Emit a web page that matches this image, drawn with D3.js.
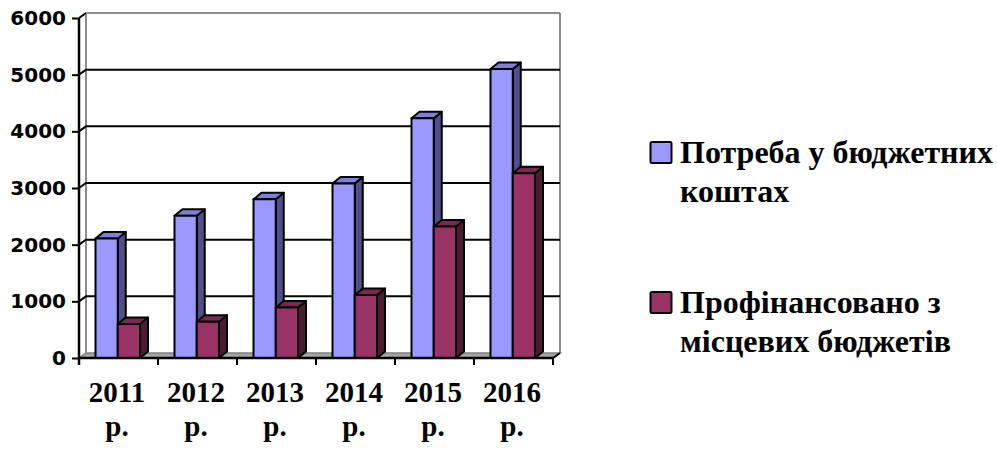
<!DOCTYPE html>
<html>
<head>
<meta charset="utf-8">
<script src="https://cdn.jsdelivr.net/npm/d3@7"></script>
<style>
  html, body { margin: 0; padding: 0; background: #fff; }
  svg { display: block; }
</style>
</head>
<body>
<svg id="chart" width="997" height="450"></svg>
<script>
// Categories (years) and the two series, in UAH thousands
const years = ["2011", "2012", "2013", "2014", "2015", "2016"];
const yearSuffix = "р.";
const seriesNames = ["Потреба у бюджетних коштах", "Профінансовано з місцевих бюджетів"];
const need = [2110, 2510, 2800, 3080, 4230, 5100];
const funded = [600, 640, 890, 1110, 2320, 3260];
const yTicks = [0, 1000, 2000, 3000, 4000, 5000, 6000];
const legendLines = [["Потреба у бюджетних", "коштах"], ["Профінансовано з", "місцевих бюджетів"]];

const svg = d3.select("#chart");

// Plot geometry: front plane and the depth offset of the back wall
const x0 = d3.scaleBand().domain(years).range([79, 553]).padding(0);
const x1 = d3.scaleBand().domain([0, 1]).range([16.5, 61]).padding(0);
const y = d3.scaleLinear().domain([0, 6000]).range([358, 18]);
const wallDx = 7, wallDy = -5;   // back wall offset
const barDx = 8, barDy = -6.5;   // bar depth offset

const fills = [
  { front: "#9999ff", side: "#4f4f8c", top: "#7f7fd9" },
  { front: "#993366", side: "#4c1a33", top: "#7a2952" }
];

const x0min = 79, x0max = 553;

// Floor
const floor = svg.append("g");
floor.append("path")
  .attr("d", `M${x0min},${y(0)} L${x0max},${y(0)} L${x0max + wallDx},${y(0) + wallDy} L${x0min + wallDx},${y(0) + wallDy} Z`)
  .attr("fill", "#a6a6a6").attr("stroke", "#7f7f7f").attr("stroke-width", 1.5);

// Walls (edges in grey)
const walls = svg.append("g").attr("fill", "none").attr("stroke", "#8c8c8c").attr("stroke-width", 2);
walls.append("line")
  .attr("x1", x0min + wallDx).attr("x2", x0min + wallDx)
  .attr("y1", y(6000) + wallDy).attr("y2", y(0) + wallDy);
walls.append("line")
  .attr("x1", x0max + wallDx).attr("x2", x0max + wallDx)
  .attr("y1", y(6000) + wallDy).attr("y2", y(0) + wallDy);

// Gridlines: diagonal across the side wall, then along the back wall
const grid = svg.append("g").attr("fill", "none").attr("stroke", "#000").attr("stroke-width", 2);
yTicks.filter(v => v > 0 && v < 6000).forEach(v => {
  grid.append("path")
    .attr("d", `M${x0min},${y(v)} L${x0min + wallDx},${y(v) + wallDy} L${x0max + wallDx},${y(v) + wallDy}`);
});
grid.append("line")
  .attr("x1", x0min).attr("y1", y(6000))
  .attr("x2", x0min + wallDx).attr("y2", y(6000) + wallDy);
svg.append("line")
  .attr("x1", x0min + wallDx).attr("x2", x0max + wallDx)
  .attr("y1", y(6000) + wallDy).attr("y2", y(6000) + wallDy)
  .attr("stroke", "#8c8c8c").attr("stroke-width", 2);

// Bars with front, side and top faces
const bars = svg.append("g").attr("stroke", "#000").attr("stroke-width", 2).attr("stroke-linejoin", "round");
years.forEach((yr, i) => {
  [need[i], funded[i]].forEach((v, s) => {
    const xl = x0(yr) + x1(s);
    const xr = xl + x1.bandwidth();
    const yt = y(v), yb = y(0);
    const g = bars.append("g");
    g.append("path")
      .attr("d", `M${xr},${yb} L${xr + barDx},${yb + barDy} L${xr + barDx},${yt + barDy} L${xr},${yt} Z`)
      .attr("fill", fills[s].side);
    g.append("path")
      .attr("d", `M${xl},${yt} L${xl + barDx},${yt + barDy} L${xr + barDx},${yt + barDy} L${xr},${yt} Z`)
      .attr("fill", fills[s].top);
    g.append("rect")
      .attr("x", xl).attr("y", yt)
      .attr("width", xr - xl).attr("height", yb - yt)
      .attr("fill", fills[s].front);
  });
});

// Value axis
const yAxis = d3.axisLeft(y).tickValues(yTicks).tickSize(7).tickPadding(6).tickFormat(d3.format("d"));
const yG = svg.append("g").attr("transform", `translate(${x0min},0)`).call(yAxis);
yG.select(".domain").attr("stroke", "#000").attr("stroke-width", 2.5).attr("d", `M0,${y(6000)}V${y(0) + 7}`);
yG.selectAll(".tick line").attr("stroke", "#000").attr("stroke-width", 2);
yG.selectAll(".tick text")
  .attr("font-family", "'DejaVu Sans', sans-serif").attr("font-weight", "bold")
  .attr("font-size", 20).attr("fill", "#000").attr("x", -13);

// Category axis
const xAxis = d3.axisBottom(x0).tickSize(0).tickFormat("");
const xG = svg.append("g").attr("transform", `translate(0,${y(0)})`).call(xAxis);
xG.select(".domain").attr("stroke", "#000").attr("stroke-width", 2.5).attr("d", `M${x0min},0H${x0max}`);
xG.selectAll(".tick").remove();
const boundaries = years.map(yr => x0(yr)).concat([x0max]);
xG.selectAll("line.cat").data(boundaries).join("line").attr("class", "cat")
  .attr("x1", d => d).attr("x2", d => d).attr("y1", 0).attr("y2", 7)
  .attr("stroke", "#000").attr("stroke-width", 2);
xG.append("line")
  .attr("x1", x0max).attr("y1", 0).attr("x2", x0max + wallDx).attr("y2", wallDy)
  .attr("stroke", "#000").attr("stroke-width", 2);

const labels = svg.append("g")
  .attr("font-family", "'Liberation Serif', 'Times New Roman', serif")
  .attr("font-weight", "bold").attr("font-size", 29).attr("fill", "#000")
  .attr("text-anchor", "middle");
years.forEach(yr => {
  const cx = x0(yr) + x0.bandwidth() / 2 - 1.5;
  labels.append("text").attr("x", cx).attr("y", 402).text(yr);
  labels.append("text").attr("x", cx).attr("y", 436).text(yearSuffix);
});

// Legend
const legend = svg.append("g")
  .attr("font-family", "'Liberation Serif', 'Times New Roman', serif")
  .attr("font-weight", "bold").attr("font-size", 32).attr("fill", "#000");
const legendTops = [142, 292];
seriesNames.forEach((name, s) => {
  legend.append("rect")
    .attr("x", 650.5).attr("y", legendTops[s])
    .attr("width", 21).attr("height", 21).attr("rx", 1.5)
    .attr("fill", fills[s].front).attr("stroke", "#000").attr("stroke-width", 2);
  legendLines[s].forEach((line, j) => {
    legend.append("text")
      .attr("x", 680).attr("y", legendTops[s] + 20.5 + j * 39.5)
      .text(line);
  });
});
</script>
</body>
</html>
